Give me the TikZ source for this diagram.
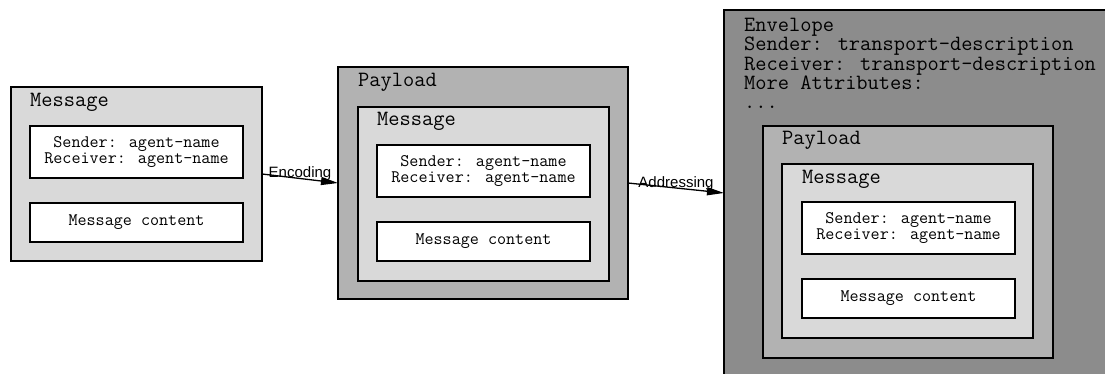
\documentclass[tikz,border=0pt]{standalone}
\usepackage{fontspec}
\usepackage{xcolor}
\usetikzlibrary{arrows.meta}
\newfontfamily\helvfont{Liberation Sans}
\definecolor{msggray}{gray}{0.85}
\definecolor{paygray}{gray}{0.70}
\definecolor{envgray}{gray}{0.55}
\tikzstyle{frame} = [draw=black, line width=1.6pt, rectangle, anchor=north west,
inner sep=0pt, outer sep=0pt]
\tikzstyle{msgbox} = [frame, fill=msggray, minimum width=251pt, minimum height=174pt]
\tikzstyle{paybox} = [frame, fill=paygray, minimum width=290pt, minimum height=232pt]
\tikzstyle{envbox} = [frame, fill=envgray, minimum width=400pt, minimum height=366pt]
\tikzstyle{hdrbox} = [frame, fill=white, minimum width=213pt, minimum height=52pt,
align=center, font=\ttfamily\fontsize{17.6}{16}\selectfont]
\tikzstyle{bodybox} = [frame, fill=white, minimum width=213pt, minimum height=39pt,
font=\ttfamily\fontsize{17.6}{16}\selectfont]
\tikzstyle{boxtitle} = [anchor=west, inner sep=0pt, font=\ttfamily\fontsize{21.8}{19.2}\selectfont]
\tikzstyle{steplabel} = [inner sep=0pt, font=\helvfont\fontsize{15}{18}\selectfont]
\tikzstyle{flow} = [line width=1.3pt, -{Triangle[length=17pt,width=8pt]}]

\begin{document}
\begin{tikzpicture}[x=1pt, y=-1pt]
    \useasboundingbox (0,0) rectangle (1105,374);

    % plain message
    \node[msgbox] (msgA) at (11,87) {};
    \node[boxtitle] (msgAtitle) at (30,102) {Message};
    \node[hdrbox] (msgAhdr) at (30,126) {Sender: agent-name\\Receiver: agent-name};
    \node[bodybox] (msgAbody) at (30,203) {Message content};

    % encoded payload
    \node[paybox] (payB) at (338,67) {};
    \node[boxtitle] (payBtitle) at (358,82) {Payload};
    \node[msgbox] (msgB) at (358,107) {};
    \node[boxtitle] (msgBtitle) at (377,121) {Message};
    \node[hdrbox] (msgBhdr) at (377,145) {Sender: agent-name\\Receiver: agent-name};
    \node[bodybox] (msgBbody) at (377,222) {Message content};

    % addressed envelope
    \node[envbox] (envC) at (724,10) {};
    \node[anchor=north west, inner sep=0pt, align=left,
        font=\ttfamily\fontsize{21.8}{19.3}\selectfont] (envCtext) at (744,18)
        {Envelope\\Sender: transport-description\\Receiver: transport-description\\More Attributes:\\...};
    \node[paybox] (payC) at (763,126) {};
    \node[boxtitle] (payCtitle) at (782,140) {Payload};
    \node[msgbox] (msgC) at (782,164) {};
    \node[boxtitle] (msgCtitle) at (802,179) {Message};
    \node[hdrbox] (msgChdr) at (802,202) {Sender: agent-name\\Receiver: agent-name};
    \node[bodybox] (msgCbody) at (802,279) {Message content};

    \draw[flow] (msgA.east) -- node[steplabel, midway, yshift=4.5pt] {Encoding} (payB.west);
    \draw[flow] (payB.east) -- node[steplabel, midway, yshift=4.5pt] {Addressing} (envC.west);
\end{tikzpicture}
\end{document}
